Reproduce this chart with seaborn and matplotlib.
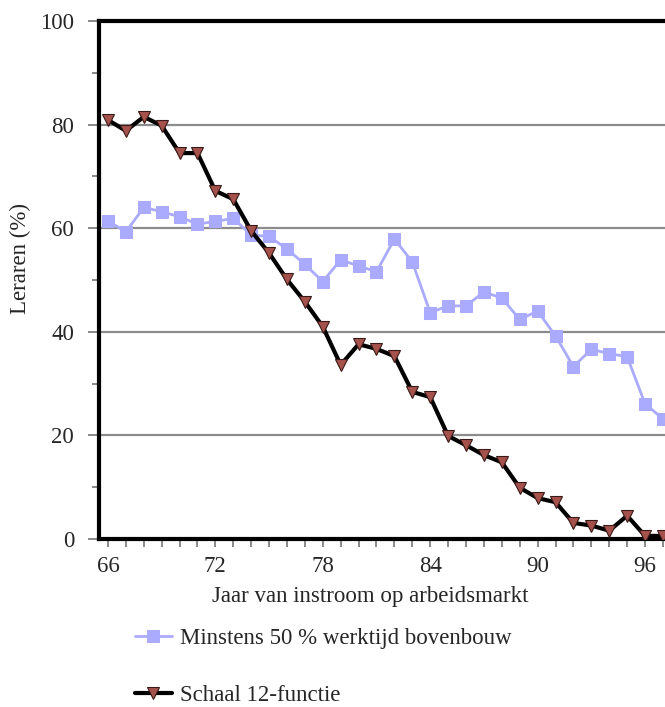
import matplotlib
matplotlib.use("Agg")
import matplotlib.pyplot as plt
import seaborn as sns
import pandas as pd
from matplotlib.ticker import MultipleLocator, FixedLocator

years = list(range(66, 98))
bovenbouw = [61.4, 59.3, 64.0, 63.2, 62.2, 60.8, 61.3, 61.9, 58.7, 58.4,
             56.0, 53.0, 49.7, 53.9, 52.7, 51.6, 57.9, 53.5, 43.7, 45.0,
             45.0, 47.7, 46.5, 42.4, 44.0, 39.2, 33.3, 36.6, 35.8, 35.2,
             26.1, 23.2]
schaal12 = [80.9, 78.8, 81.5, 79.8, 74.5, 74.5, 67.2, 65.6, 59.5, 55.2,
            50.1, 45.8, 41.0, 33.6, 37.6, 36.7, 35.3, 28.4, 27.4, 19.9,
            18.1, 16.2, 14.8, 9.9, 7.9, 7.1, 3.1, 2.6, 1.6, 4.5,
            0.6, 0.6]
label_blue = "Minstens 50 % werktijd bovenbouw"
label_black = "Schaal 12-functie"
xtick_labels = [66, 72, 78, 84, 90, 96]

FS = 16.5

sns.set_style("white")
plt.rcParams["font.family"] = ["Liberation Serif", "DejaVu Serif"]
plt.rcParams["font.size"] = FS

fig = plt.figure(figsize=(6.65, 7.07), dpi=100)
ax = fig.add_axes([99 / 665, 1 - 539 / 707, 572 / 665, 518 / 707])

df = pd.DataFrame({"jaar": years, "blue": bovenbouw, "black": schaal12})

sns.lineplot(data=df, x="jaar", y="blue", ax=ax, color="#AAAAFF", lw=2,
             marker="s", markersize=8, markeredgecolor="#AAAAFF",
             label=label_blue, zorder=3)
sns.lineplot(data=df, x="jaar", y="black", ax=ax, color="black", lw=3,
             marker="v", markersize=9, markerfacecolor="#A5524C",
             markeredgecolor="#3a1a18", markeredgewidth=0.8,
             label=label_black, zorder=4)

ax.set_xlim(65.5, 97.45)
ax.set_ylim(0, 100)

ax.yaxis.set_major_locator(MultipleLocator(20))
ax.yaxis.set_minor_locator(MultipleLocator(10))
ax.xaxis.set_major_locator(FixedLocator(xtick_labels))
ax.xaxis.set_minor_locator(FixedLocator(years))
ax.set_xticklabels([str(v) for v in xtick_labels])

ax.tick_params(axis="y", which="major", direction="out", length=8, width=1.2,
               color="#777777", labelsize=FS, pad=10, left=True)
ax.tick_params(axis="y", which="minor", direction="out", length=5, width=1.2,
               color="#777777", left=True)
ax.tick_params(axis="x", which="major", direction="out", length=6, width=1.2,
               color="#777777", labelsize=FS, pad=6, bottom=True)
ax.tick_params(axis="x", which="minor", direction="out", length=6, width=1.2,
               color="#777777", bottom=True)

for y in [20, 40, 60, 80]:
    ax.axhline(y, color="#8c8c8c", lw=1.6, zorder=1)

for s in ["left", "bottom", "top"]:
    ax.spines[s].set_visible(True)
    ax.spines[s].set_color("black")
    ax.spines[s].set_linewidth(3)
ax.spines["right"].set_visible(False)

ax.set_xlabel("Jaar van instroom op arbeidsmarkt", fontsize=FS)
ax.set_ylabel("Leraren (%)", fontsize=FS)
ax.xaxis.set_label_coords((370 - 99) / 572, -(586 - 539) / 518)
ax.yaxis.set_label_coords(-(99 - 31) / 572, (539 - 258) / 518)

h, l = ax.get_legend_handles_labels()
ax.legend_.remove()
fig.legend(h, l, loc="upper left", bbox_to_anchor=(135 / 665, 1 - 628 / 707),
           frameon=False, fontsize=FS, handlelength=1.6, handletextpad=0.35,
           labelspacing=1.57, borderpad=0, borderaxespad=0)

fig.savefig("out.png", dpi=100)
